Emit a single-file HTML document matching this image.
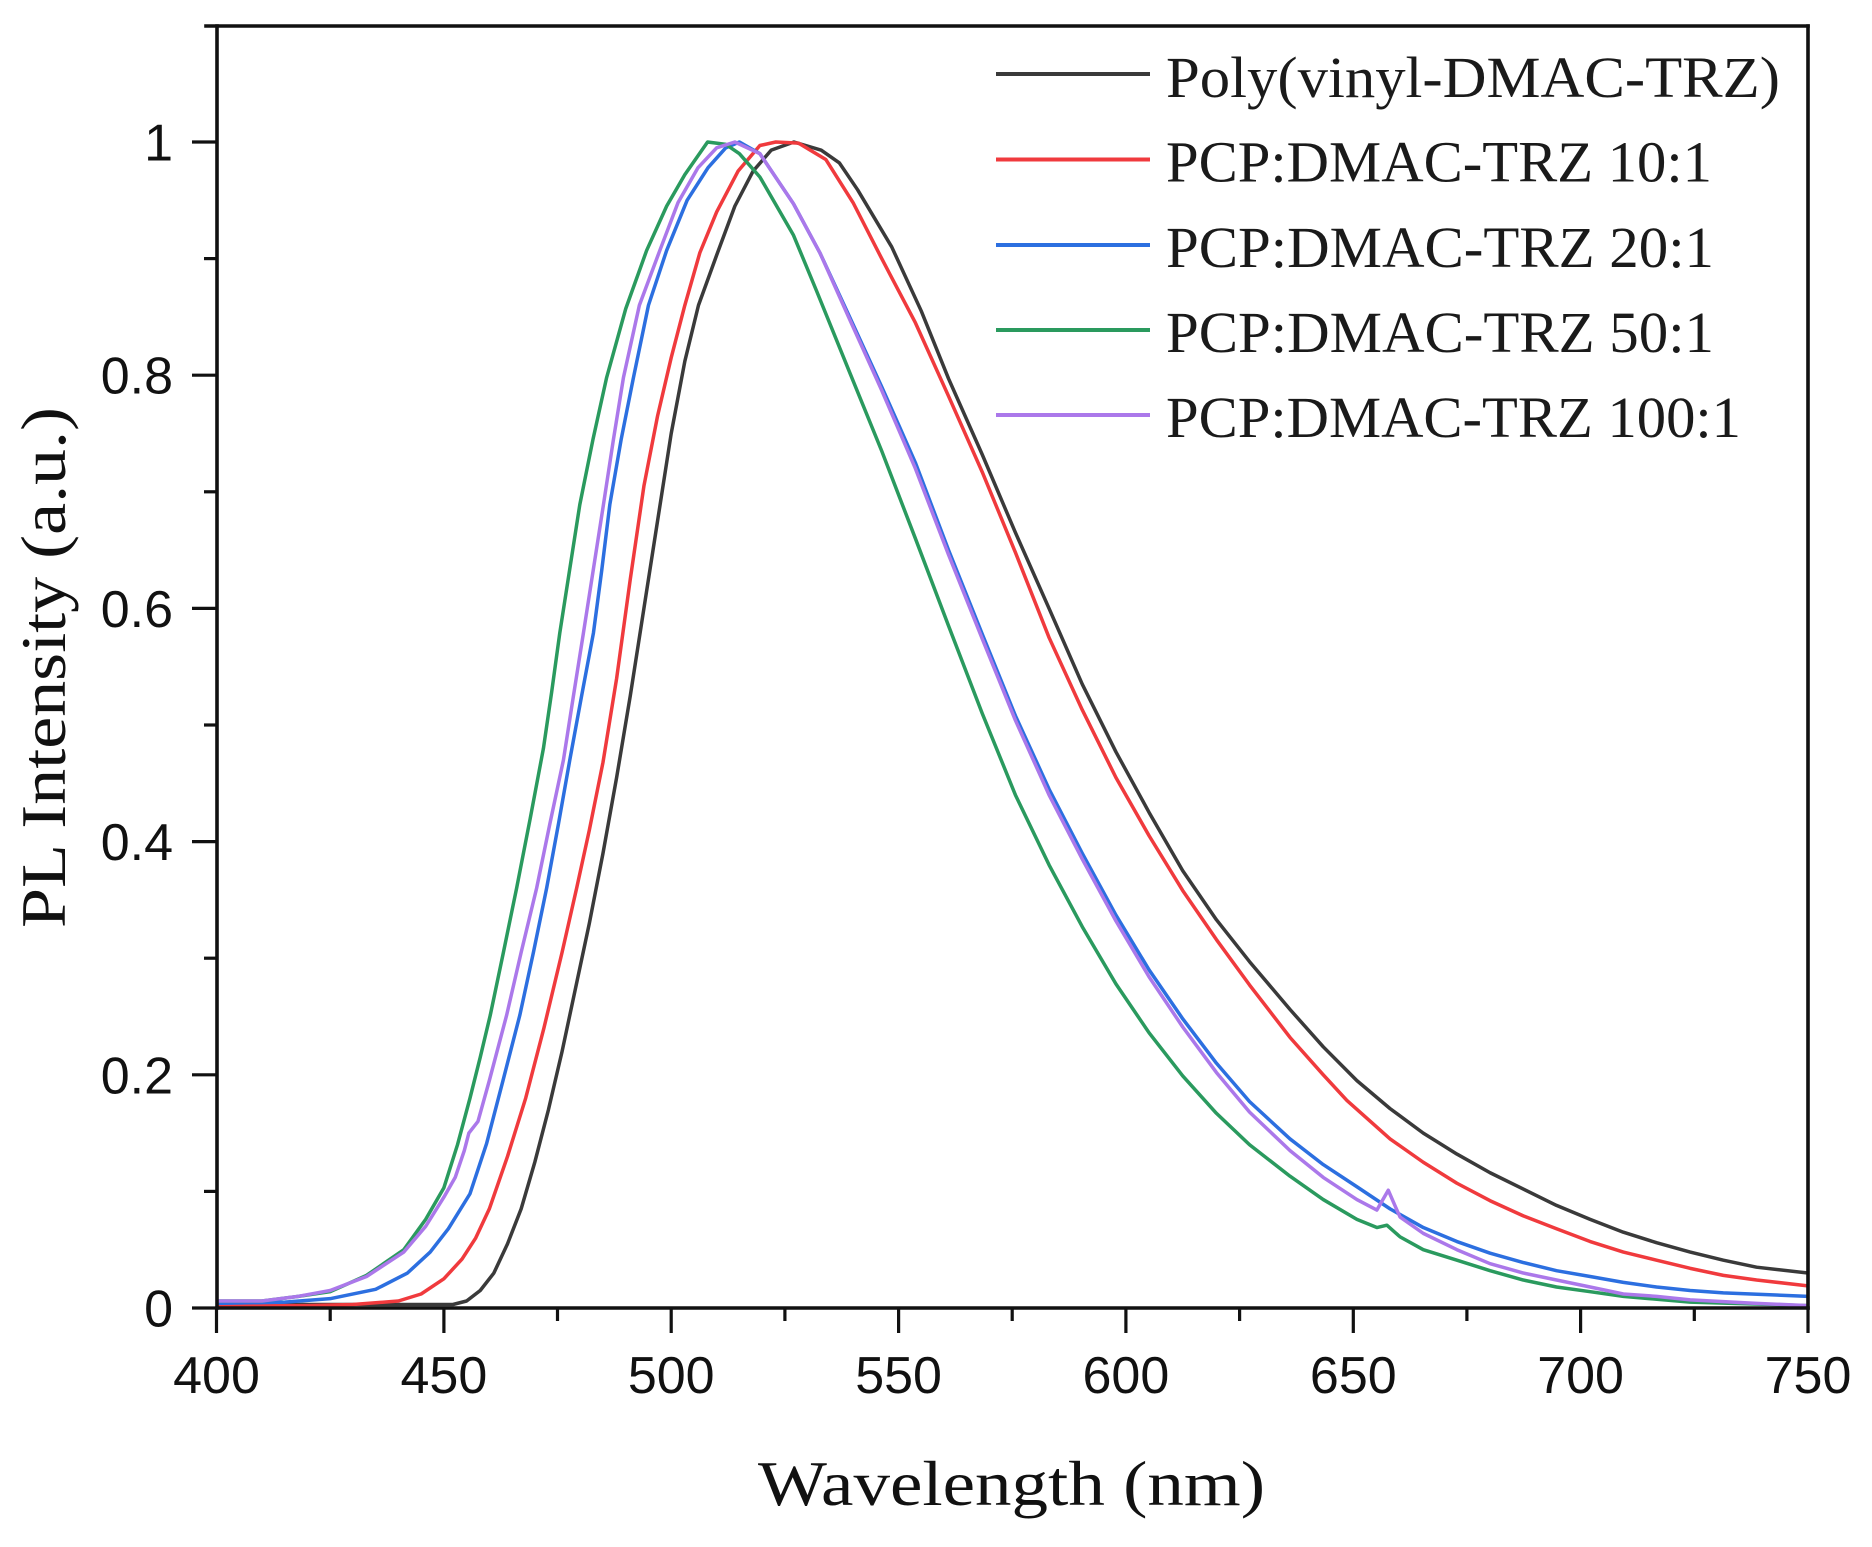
<!DOCTYPE html>
<html>
<head>
<meta charset="utf-8">
<style>
html,body{margin:0;padding:0;background:#ffffff;}
svg{display:block;}
</style>
</head>
<body>
<svg xmlns="http://www.w3.org/2000/svg" width="1872" height="1547" viewBox="0 0 1872 1547">
<rect x="0" y="0" width="1872" height="1547" fill="#ffffff"/>
<defs>
<clipPath id="plot"><rect x="217" y="25" width="1591" height="1286"/></clipPath>
</defs>

<!-- data curves -->
<g clip-path="url(#plot)">
<g transform="translate(216.5,1308) scale(4.547,-1166) translate(-400,0)" fill="none" stroke-linejoin="round" stroke-linecap="round">
<polyline vector-effect="non-scaling-stroke" stroke="#3a3a3a" stroke-width="3.5" points="400,0.003 420,0.003 440,0.003 450,0.003 452,0.003 455,0.006 458,0.015 461,0.03 464,0.055 467,0.085 470,0.125 473,0.17 476,0.22 479,0.275 482,0.33 485,0.39 488,0.455 491,0.525 494,0.6 497,0.675 500,0.75 503,0.812 506,0.86 510,0.903 514,0.945 518,0.975 522,0.993 527,1.0 533,0.993 537,0.982 541,0.959 548.5,0.91 555,0.855 561,0.797 568.4,0.732 575.7,0.665 583.1,0.6 590.4,0.535 597.8,0.477 605.1,0.425 612.5,0.375 619.9,0.333 627.2,0.297 636.1,0.256 643.4,0.224 650.8,0.195 658.1,0.171 665.4,0.15 672.8,0.132 680.1,0.116 687.4,0.102 694.7,0.088 702.1,0.076 709.4,0.065 716.7,0.056 724.1,0.048 731.4,0.041 738.7,0.035 750,0.03"/>
<polyline vector-effect="non-scaling-stroke" stroke="#f03a3d" stroke-width="3.5" points="400,0.002 420,0.002 430,0.003 440,0.006 445,0.012 450,0.025 454,0.042 457,0.06 460,0.085 464,0.13 468,0.18 472,0.24 476,0.305 479.2,0.36 482,0.41 485,0.468 488,0.54 491,0.625 494,0.705 497,0.765 500,0.815 503,0.86 506.3,0.905 510,0.94 514.7,0.975 519.5,0.997 523,1.0 528,0.999 534,0.985 540,0.948 546.3,0.9 553.7,0.845 561,0.782 568.4,0.717 575.7,0.648 583.1,0.575 590.4,0.513 597.8,0.455 605.1,0.405 612.5,0.358 619.9,0.316 627.2,0.277 636.1,0.232 643.4,0.2 648.6,0.178 658.1,0.145 665.4,0.125 672.8,0.107 680.1,0.092 687.4,0.079 694.7,0.068 702.1,0.057 709.4,0.048 716.7,0.041 724.1,0.034 731.4,0.028 738.7,0.024 750,0.019"/>
<polyline vector-effect="non-scaling-stroke" stroke="#2c6fe0" stroke-width="3.5" points="400,0.004 415,0.005 425,0.008 435,0.016 442,0.03 447,0.048 451,0.068 455.75,0.098 459.4,0.141 463,0.195 466.7,0.251 469.7,0.305 472.6,0.36 475.2,0.415 477.7,0.47 480.3,0.525 482.9,0.579 484.7,0.632 486.5,0.689 489,0.745 491.7,0.798 495,0.86 499,0.907 503.5,0.95 508.1,0.978 512,0.995 515,1.0 519.5,0.99 526.9,0.947 532.7,0.905 539,0.852 546.3,0.79 550.3,0.755 553.7,0.725 561,0.65 568.4,0.578 575.7,0.508 583.1,0.445 590.4,0.39 597.8,0.337 605.1,0.29 612.5,0.248 619.9,0.21 627.2,0.177 636.1,0.145 643.4,0.123 650.8,0.104 658.1,0.085 665.4,0.069 672.8,0.057 680.1,0.047 687.4,0.039 694.7,0.032 702.1,0.027 709.4,0.022 716.7,0.018 724.1,0.015 731.4,0.013 750,0.010"/>
<polyline vector-effect="non-scaling-stroke" stroke="#2a9a5e" stroke-width="3.5" points="400,0.006 410,0.006 418,0.01 425,0.014 433,0.028 441.2,0.05 446,0.076 450,0.103 453,0.14 455.75,0.18 458,0.215 460.2,0.251 463.1,0.305 466,0.36 469,0.42 471.9,0.48 473.7,0.528 475.5,0.579 477.7,0.634 479.9,0.689 482.8,0.745 485.8,0.798 490,0.857 494.6,0.907 499,0.945 503,0.972 508,1.0 512,0.998 515,0.99 519.5,0.97 526.9,0.92 532,0.872 539.5,0.8 546.3,0.735 553.7,0.66 561,0.585 568.4,0.51 575.7,0.44 583.1,0.38 590.4,0.327 597.8,0.278 605.1,0.236 612.5,0.199 619.9,0.167 627.2,0.14 636.1,0.113 643.4,0.093 650.8,0.076 655.2,0.069 657.4,0.071 660.3,0.061 665.4,0.05 672.8,0.041 680.1,0.032 687.4,0.024 694.7,0.018 702.1,0.014 709.4,0.010 724.1,0.005 750,0.002"/>
<polyline vector-effect="non-scaling-stroke" stroke="#ab78ea" stroke-width="3.5" points="400,0.006 410,0.006 418,0.01 425,0.015 433,0.027 441.2,0.048 446,0.07 450,0.095 452.5,0.112 454.5,0.135 455.5,0.15 457.5,0.16 460,0.195 463.8,0.251 467,0.305 470.4,0.36 473.3,0.415 476.3,0.47 478.5,0.525 480.7,0.579 482.9,0.634 485.1,0.689 487.3,0.745 489.5,0.798 493,0.86 497.5,0.907 501.5,0.948 505.9,0.978 510,0.995 514,1.0 519.5,0.99 526.9,0.947 532.7,0.905 539,0.85 546.3,0.787 553.7,0.72 561,0.646 568.4,0.574 575.7,0.504 583.1,0.44 590.4,0.385 597.8,0.332 605.1,0.284 612.5,0.241 619.9,0.202 627.2,0.168 636.1,0.135 643.4,0.112 650.8,0.093 655.2,0.084 657.7,0.101 659.6,0.084 660.3,0.078 665.4,0.064 672.8,0.05 680.1,0.038 687.4,0.03 694.7,0.024 702.1,0.018 709.4,0.012 716.7,0.01 724.1,0.007 738.7,0.004 750,0.002"/>
</g>
</g>

<!-- axes frame -->
<g stroke="#111111" stroke-width="3.6" fill="none" stroke-linecap="square">
<line x1="217" y1="26" x2="217" y2="1308"/>
<line x1="217" y1="1308" x2="1808" y2="1308"/>
<line x1="1808" y1="26" x2="1808" y2="1308"/>
<line x1="206" y1="26" x2="1808" y2="26"/>
</g>

<!-- x ticks -->
<g stroke="#111111" stroke-width="3.2">
<line x1="216.5" y1="1308" x2="216.5" y2="1333"/>
<line x1="443.9" y1="1308" x2="443.9" y2="1333"/>
<line x1="671.2" y1="1308" x2="671.2" y2="1333"/>
<line x1="898.6" y1="1308" x2="898.6" y2="1333"/>
<line x1="1125.9" y1="1308" x2="1125.9" y2="1333"/>
<line x1="1353.3" y1="1308" x2="1353.3" y2="1333"/>
<line x1="1580.6" y1="1308" x2="1580.6" y2="1333"/>
<line x1="1808" y1="1308" x2="1808" y2="1333"/>
<line x1="330.2" y1="1308" x2="330.2" y2="1321"/>
<line x1="557.5" y1="1308" x2="557.5" y2="1321"/>
<line x1="784.9" y1="1308" x2="784.9" y2="1321"/>
<line x1="1012.2" y1="1308" x2="1012.2" y2="1321"/>
<line x1="1239.6" y1="1308" x2="1239.6" y2="1321"/>
<line x1="1466.9" y1="1308" x2="1466.9" y2="1321"/>
<line x1="1694.3" y1="1308" x2="1694.3" y2="1321"/>
</g>

<!-- y ticks -->
<g stroke="#111111" stroke-width="3.2">
<line x1="192" y1="1308" x2="217" y2="1308"/>
<line x1="192" y1="1074.8" x2="217" y2="1074.8"/>
<line x1="192" y1="841.6" x2="217" y2="841.6"/>
<line x1="192" y1="608.4" x2="217" y2="608.4"/>
<line x1="192" y1="375.2" x2="217" y2="375.2"/>
<line x1="192" y1="142" x2="217" y2="142"/>
<line x1="204" y1="1191.4" x2="217" y2="1191.4"/>
<line x1="204" y1="958.2" x2="217" y2="958.2"/>
<line x1="204" y1="725" x2="217" y2="725"/>
<line x1="204" y1="491.8" x2="217" y2="491.8"/>
<line x1="204" y1="258.6" x2="217" y2="258.6"/>
</g>

<!-- x tick labels -->
<g font-family="'Liberation Sans', Arial, sans-serif" font-size="52" fill="#111111" text-anchor="middle">
<text x="216.5" y="1393">400</text>
<text x="443.9" y="1393">450</text>
<text x="671.2" y="1393">500</text>
<text x="898.6" y="1393">550</text>
<text x="1125.9" y="1393">600</text>
<text x="1353.3" y="1393">650</text>
<text x="1580.6" y="1393">700</text>
<text x="1808" y="1393">750</text>
</g>

<!-- y tick labels -->
<g font-family="'Liberation Sans', Arial, sans-serif" font-size="52" fill="#111111" text-anchor="end">
<text x="173" y="1326.5">0</text>
<text x="173" y="1093.3">0.2</text>
<text x="173" y="860.1">0.4</text>
<text x="173" y="626.9">0.6</text>
<text x="173" y="393.7">0.8</text>
<text x="173" y="160.5">1</text>
</g>

<!-- axis titles -->
<text x="1011.5" y="1505" font-family="'Liberation Serif', 'Times New Roman', serif" font-size="64" fill="#111111" text-anchor="middle" textLength="507" lengthAdjust="spacingAndGlyphs">Wavelength (nm)</text>
<text transform="translate(65,667.5) rotate(-90)" x="0" y="0" font-family="'Liberation Serif', 'Times New Roman', serif" font-size="64" fill="#111111" text-anchor="middle" textLength="521" lengthAdjust="spacingAndGlyphs">PL Intensity (a.u.)</text>

<!-- legend -->
<g stroke-width="4">
<line x1="996" y1="74" x2="1150" y2="74" stroke="#3a3a3a"/>
<line x1="996" y1="159.5" x2="1150" y2="159.5" stroke="#f03a3d"/>
<line x1="996" y1="245" x2="1150" y2="245" stroke="#2c6fe0"/>
<line x1="996" y1="330" x2="1150" y2="330" stroke="#2a9a5e"/>
<line x1="996" y1="415" x2="1150" y2="415" stroke="#ab78ea"/>
</g>
<g font-family="'Liberation Serif', 'Times New Roman', serif" font-size="58" fill="#1a1a1a">
<text x="1166" y="97" textLength="614" lengthAdjust="spacingAndGlyphs">Poly(vinyl-DMAC-TRZ)</text>
<text x="1166" y="181.5" textLength="546" lengthAdjust="spacingAndGlyphs">PCP:DMAC-TRZ 10:1</text>
<text x="1166" y="267" textLength="548" lengthAdjust="spacingAndGlyphs">PCP:DMAC-TRZ 20:1</text>
<text x="1166" y="352" textLength="548" lengthAdjust="spacingAndGlyphs">PCP:DMAC-TRZ 50:1</text>
<text x="1166" y="437" textLength="575" lengthAdjust="spacingAndGlyphs">PCP:DMAC-TRZ 100:1</text>
</g>
</svg>
</body>
</html>
